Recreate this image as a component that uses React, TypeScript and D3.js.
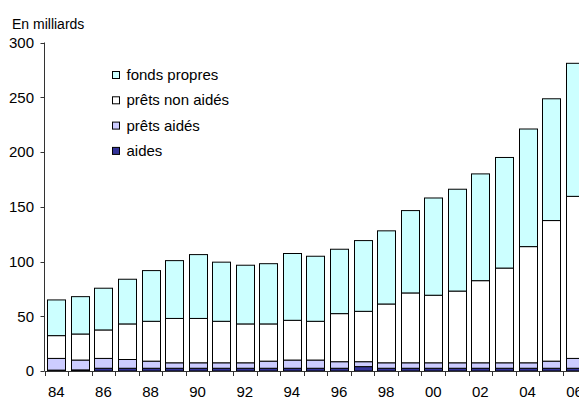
import React from "react";
import * as d3 from "d3";

// années 1984 à 2006
const annees = [
  "84", "85", "86", "87", "88", "89", "90", "91", "92", "93", "94", "95",
  "96", "97", "98", "99", "00", "01", "02", "03", "04", "05", "06",
];

// hauteur de chaque segment, en milliards
const aides = [
  0.8, 1, 2.5, 2.5, 2.5, 2.5, 2.5, 2.5, 2.5, 2.5, 2.5, 2.5,
  2.5, 4, 2.5, 2.5, 2.5, 2.5, 2.5, 2.5, 2.5, 2.5, 2.5,
];
const pretsAides = [
  10.7, 9, 9, 8, 6.5, 5, 5, 5, 5, 6.5, 7.5, 7.5,
  6, 4.5, 5, 5, 5, 5, 5, 5, 5, 6.5, 9,
];
const pretsNonAides = [
  20.8, 23.8, 26, 32.5, 36.4, 40.5, 40.5, 37.9, 35.5, 34, 36.3, 35.4,
  43.9, 46, 53.7, 63.8, 61.7, 65.5, 75, 86.5, 106.1, 128.4, 148,
];
const fondsPropres = [
  32.6, 34.1, 38.1, 40.8, 46.3, 52.8, 58.3, 54, 53.6, 55, 61, 59.4,
  58.8, 64.6, 66.8, 75.2, 88.8, 93, 97.5, 101, 107.4, 111.2, 121.5,
];

const yTicks = [0, 50, 100, 150, 200, 250, 300];

const series = [
  { key: "aides", label: "aides", values: aides, color: "#333399" },
  { key: "pretsAides", label: "prêts aidés", values: pretsAides, color: "#CCCCFF" },
  { key: "pretsNonAides", label: "prêts non aidés", values: pretsNonAides, color: "#FFFFFF" },
  { key: "fondsPropres", label: "fonds propres", values: fondsPropres, color: "#CCFFFF" },
];

const W = 579;
const H = 398;
const x0 = 44.5;
const stepPx = 23.56;

export default function App() {
  const table = annees.map((a, i) => {
    const row: any = { annee: a };
    series.forEach((s) => (row[s.key] = s.values[i]));
    return row;
  });

  const stack = d3.stack().keys(series.map((s) => s.key));
  const couches = stack(table);

  const x = d3
    .scaleBand()
    .domain(annees)
    .range([x0, x0 + stepPx * annees.length])
    .paddingInner(0.24)
    .paddingOuter(0.12);

  const y = d3.scaleLinear().domain([0, 300]).range([371, 42.5]);

  const font = "'Liberation Sans', Arial, sans-serif";
  const legende = series.slice().reverse();

  return (
    <div style={{ position: "absolute", left: 0, top: 0 }}>
      <svg width={W} height={H} style={{ display: "block", fontFamily: font }}>
        <rect width={W} height={H} fill="#fff" />
        <text x={12} y={29.3} fontSize={14} fill="#000">
          En milliards
        </text>

        {/* barres empilées */}
        {couches.map((couche, si) => (
          <g key={series[si].key}>
            {couche.map((d: any, i) => (
              <rect
                key={i}
                x={Math.round(x(annees[i])!) + 0.5}
                y={y(d[1])}
                width={Math.round(x.bandwidth())}
                height={Math.max(0, y(d[0]) - y(d[1]))}
                fill={series[si].color}
                stroke="#000"
                strokeWidth={1}
              />
            ))}
          </g>
        ))}

        {/* axe Y */}
        <line x1={x0} x2={x0} y1={y(300)} y2={y(0)} stroke="#333" />
        {yTicks.map((t) => (
          <g key={t}>
            <line x1={x0 - 4} x2={x0} y1={Math.round(y(t)) + 0.5} y2={Math.round(y(t)) + 0.5} stroke="#333" />
            <text x={34} y={y(t)} dy="0.36em" textAnchor="end" fontSize={15} fill="#000">
              {t}
            </text>
          </g>
        ))}

        {/* axe X */}
        <line x1={x0} x2={W} y1={371.5} y2={371.5} stroke="#333" />
        {annees.map((a, i) => {
          const bord = x0 + x.step() * i;
          return (
            <line key={a} x1={Math.round(bord) + 0.5} x2={Math.round(bord) + 0.5} y1={371} y2={376} stroke="#333" />
          );
        })}
        {annees.map((a, i) =>
          i % 2 === 0 ? (
            <text
              key={a}
              x={x(a)! + x.bandwidth() / 2}
              y={396.5}
              textAnchor="middle"
              fontSize={15}
              fill="#000"
            >
              {a}
            </text>
          ) : null
        )}

        {/* légende */}
        {legende.map((s, i) => {
          const base = 80 + 25.3 * i;
          return (
            <g key={s.key}>
              <rect x={112.5} y={base - 8.5} width={7} height={7} fill={s.color} stroke="#000" />
              <text x={126.5} y={base} fontSize={15} fill="#000">
                {s.label}
              </text>
            </g>
          );
        })}
      </svg>
    </div>
  );
}
